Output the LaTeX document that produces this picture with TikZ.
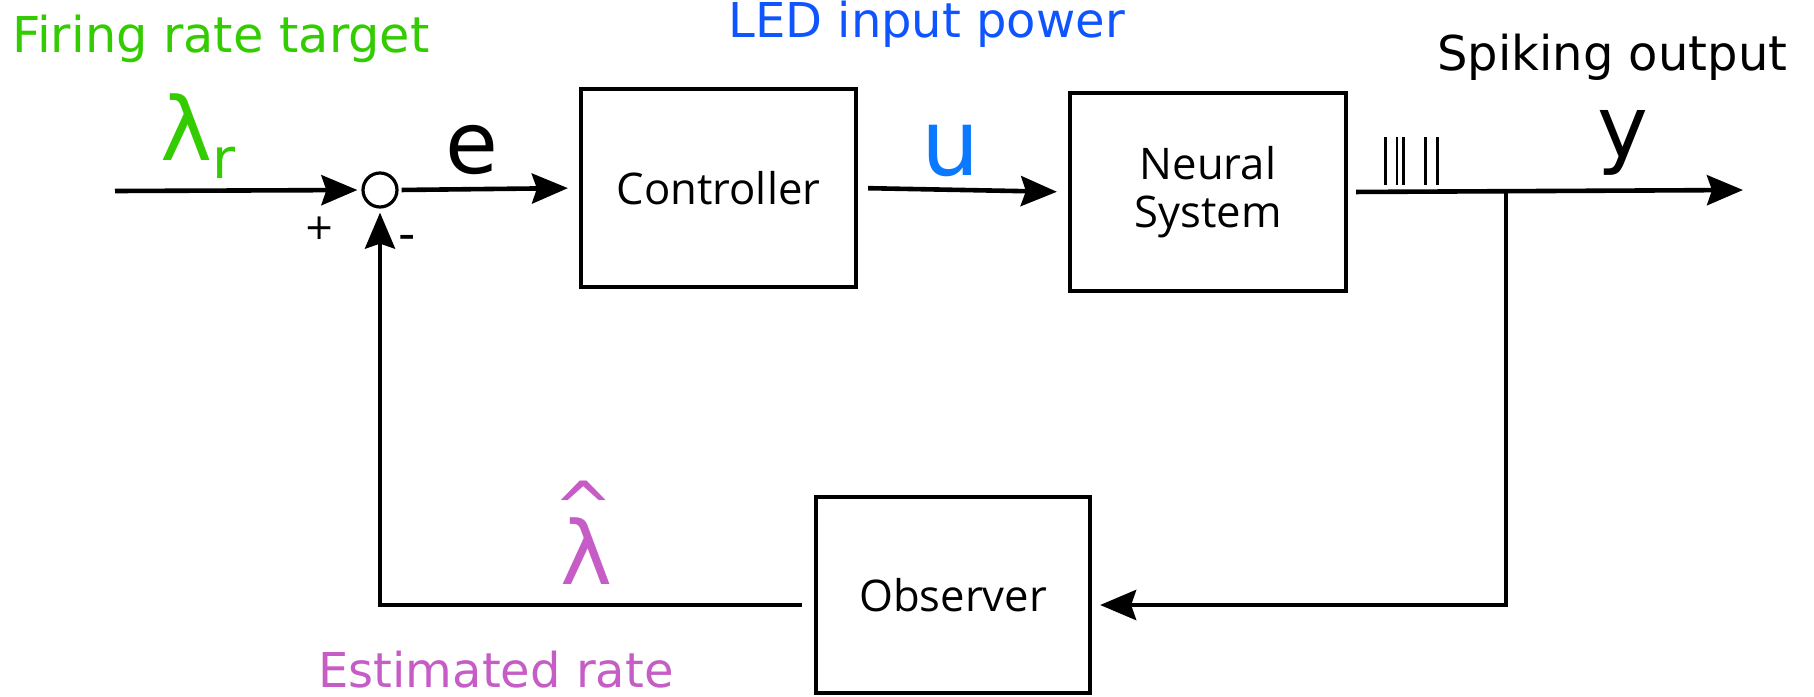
\documentclass[tikz,border=0pt]{standalone}
\usepackage{fontspec}
\setmainfont{DejaVu Sans}
\newfontfamily\boxfont{Open Sans}
\usetikzlibrary{arrows.meta,calc}
\definecolor{fgreen}{RGB}{51,204,0}
\definecolor{ledblue}{RGB}{15,85,255}
\definecolor{ublue}{RGB}{10,120,255}
\definecolor{estmag}{RGB}{198,92,198}
\tikzset{
  blockbox/.style={draw, line width=2.1pt, inner sep=0pt, align=center,
    font=\boxfont\fontsize{21.8}{24}\selectfont},
  sumnode/.style={circle, draw, line width=1.6pt, minimum size=17pt, inner sep=0pt},
  arr/.style={line width=2.3pt, -{Stealth[length=18pt,width=15pt,inset=2.5pt]}},
  spike/.style={line width=1.35pt},
  lbl/.style={inner sep=0pt, anchor=base west, font=\fontsize{24}{28}\selectfont},
  bigsym/.style={inner sep=0pt, anchor=base west},
}
\begin{document}
\begin{tikzpicture}[x=0.5pt,y=-0.5pt]
\useasboundingbox (0,0) rectangle (1814,696);
% blocks
\node[blockbox, minimum width=137.5pt, minimum height=99pt] (ctrl) at (718.5,188) {Controller};
\node[blockbox, minimum width=138pt, minimum height=99pt] (neur) at (1208,192) {Neural\\System};
\node[blockbox, minimum width=137pt, minimum height=98pt] (obs) at (953,595) {Observer};
\node[sumnode] (sum) at (380,190) {};
% coordinates
\coordinate (in) at (115,191);
\coordinate (out) at (1743,190);
\coordinate (tap) at (1506,191);
\coordinate (fbR) at (1506,605);
\coordinate (fbL) at (380,605);
% connectors
\draw[arr, shorten >=2pt] (in) -- (sum.west);
\draw[arr, shorten <=1.5pt, shorten >=5.5pt] (sum.east) -- (ctrl.west);
\draw[arr, shorten <=5pt, shorten >=5.5pt] (ctrl.east) -- (neur.west);
\draw[arr, shorten <=4pt] (neur.east) -- (out);
\draw[arr, shorten >=4pt] (tap) -- (fbR) -- (obs.east |- fbR);
\draw[arr, shorten <=6pt, shorten >=2pt] (obs.west |- fbL) -- (fbL) -- (sum.south);
% spikes
\foreach \sx in {1385.7,1397,1403.3,1425.3,1437.7}
  \draw[spike] (\sx,137) -- (\sx,185);
% labels
\node[lbl, text=fgreen, font=\fontsize{24.7}{28}\selectfont] (tfire) at (12,52) {Firing rate target};
\node[lbl, text=ledblue] (tled) at (728,37) {LED input power};
\node[lbl] (tspk) at (1437,70) {Spiking output};
\node[lbl, text=estmag] (test) at (318,687) {Estimated rate};
% symbols
\node[bigsym, text=fgreen] (lamr) at (160,160) {\fontsize{44}{44}\selectfont λ\fontsize{28}{28}\selectfont\raisebox{-9pt}{r}};
\node[bigsym] (esym) at (445,173) {\fontsize{43}{43}\selectfont e};
\node[bigsym, text=ublue] (usym) at (921,175) {\fontsize{46}{46}\selectfont u};
\node[bigsym] (ysym) at (1597,157) {\fontsize{43}{43}\selectfont y};
\node[bigsym, text=estmag] (lamh) at (560,584) {\fontsize{44}{44}\selectfont λ};
\node[bigsym, text=estmag] (hat) at (553,533) {\fontsize{36}{36}\selectfont\char"005E};
\node[inner sep=0pt, font=\fontsize{18}{18}\selectfont] (plus) at (320,228) {+};
\node[inner sep=0pt, font=\fontsize{24}{24}\selectfont] (minus) at (407,243) {-};
\end{tikzpicture}
\end{document}
